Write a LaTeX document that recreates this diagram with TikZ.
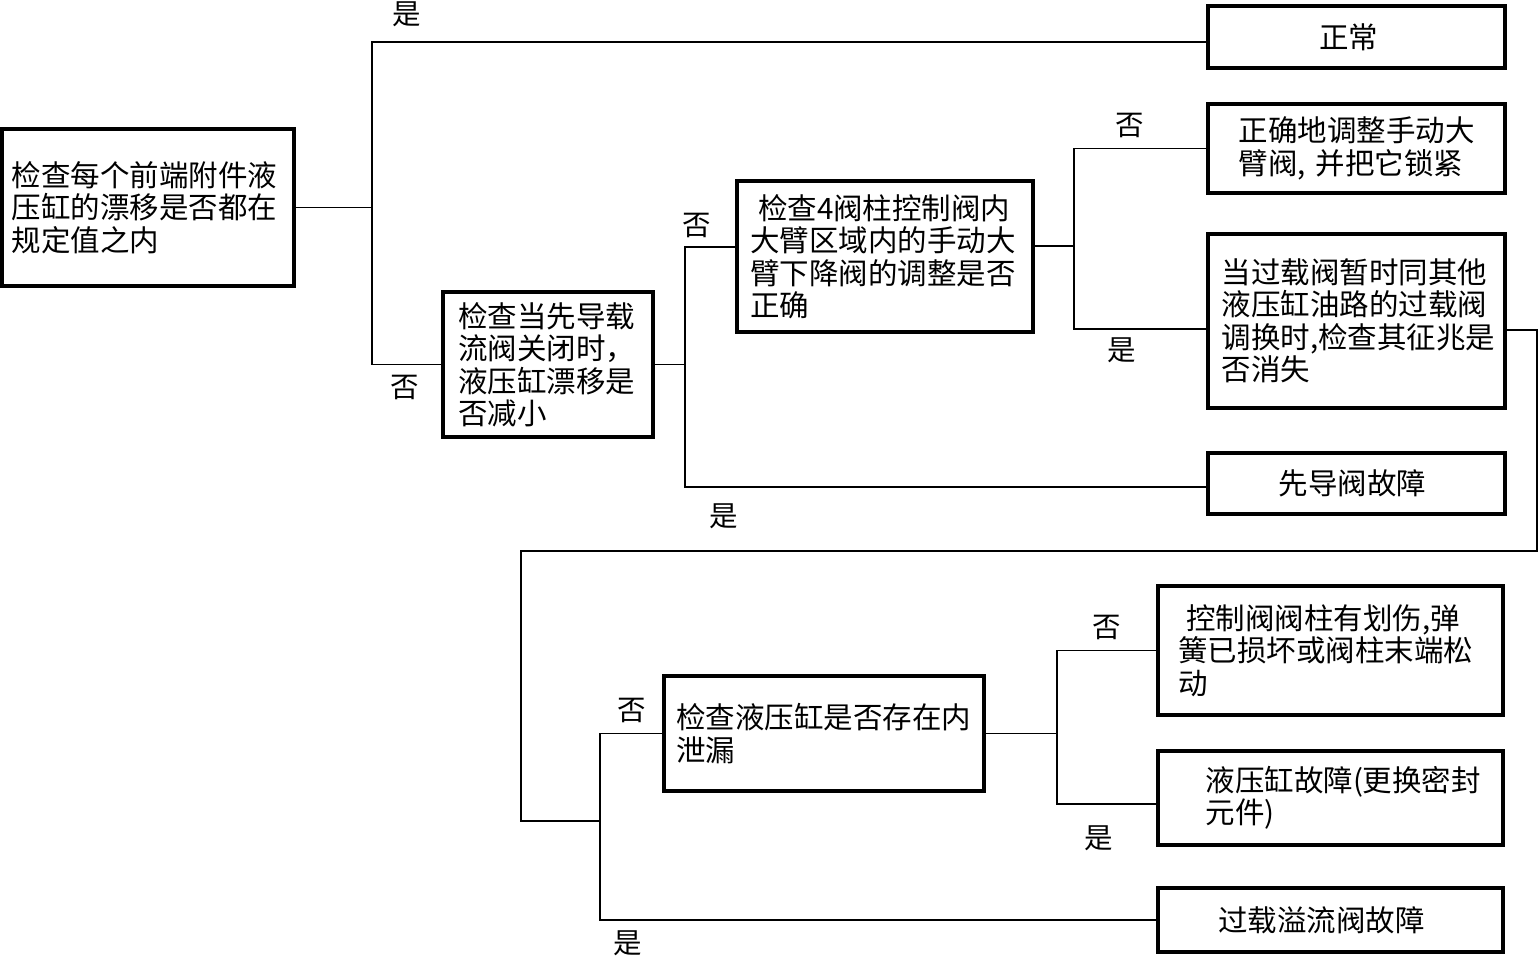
\documentclass[tikz,border=0pt]{standalone}
\usepackage{fontspec}
\newfontfamily\cjk{Noto Sans CJK SC}
\begin{document}
\begin{tikzpicture}[x=1pt,y=-1pt,
  box/.style={draw, line width=3.4pt, inner sep=0pt, align=left, font=\cjk\fontsize{29.5}{32.5}\selectfont},
  lbl/.style={font=\cjk\fontsize{28.5}{32}\selectfont, inner sep=0pt},
  conn/.style={line width=1.3pt}]
\useasboundingbox (0,0) rectangle (1540,959);
% boxes
\node[box, minimum width=292pt, minimum height=157pt, text width=272pt] (root) at (148,207.5) {检查每个前端附件液\\压缸的漂移是否都在\\规定值之内};
\node[box, minimum width=297pt, minimum height=62pt, align=center] (ok) at (1356.5,37) {\hspace*{-16pt}正常};
\node[box, minimum width=297pt, minimum height=89pt, text width=236pt] (fix) at (1356.5,148.5) {正确地调整手动大\\臂阀, 并把它锁紧};
\node[box, minimum width=297pt, minimum height=174pt, text width=270pt] (q3) at (1356.5,321) {当过载阀暂时同其他\\液压缸油路的过载阀\\调换时,检查其征兆是\\否消失};
\node[box, minimum width=297pt, minimum height=61pt, align=center] (pilot) at (1356.5,483.5) {\hspace*{-8pt}先导阀故障};
\node[box, minimum width=296pt, minimum height=151pt, text width=270pt] (q2) at (885,256.5) {\hspace*{8pt}检查4阀柱控制阀内\\大臂区域内的手动大\\臂下降阀的调整是否\\正确};
\node[box, minimum width=210pt, minimum height=145pt, text width=180pt] (q1) at (548,364.5) {检查当先导载\\流阀关闭时，\\液压缸漂移是\\否减小};
\node[box, minimum width=320pt, minimum height=115pt, text width=296pt] (q4) at (824,733.5) {检查液压缸是否存在内\\泄漏};
\node[box, minimum width=345pt, minimum height=129pt, text width=305pt] (spr) at (1330.5,650.5) {\hspace*{8pt}控制阀阀柱有划伤,弹\\簧已损坏或阀柱末端松\\动};
\node[box, minimum width=345pt, minimum height=94pt, text width=250pt] (cylf) at (1330.5,798) {液压缸故障(更换密封\\元件)};
\node[box, minimum width=345pt, minimum height=64pt, align=center] (over) at (1330.5,920) {\hspace*{-18pt}过载溢流阀故障};
% junctions
\coordinate (jA) at (372,207.5);
\coordinate (jB) at (685,364.5);
\coordinate (jC) at (1074,246);
\coordinate (r1) at (1537,551);
\coordinate (r2) at (521,551);
\coordinate (jE) at (600,821);
\coordinate (jF) at (1057,733.5);
% connectors
\draw[conn] (root.east) -- (jA);
\draw[conn] ([yshift=-5pt]ok.west) -| (jA) |- (q1.west);
\draw[conn] (q1.east) -- (jB);
\draw[conn] ([yshift=9.5pt]q2.west) -| (jB) |- ([yshift=-3.5pt]pilot.west);
\draw[conn] ([yshift=10.5pt]q2.east) -- (jC);
\draw[conn] (fix.west) -| (jC) |- ([yshift=-8pt]q3.west);
\draw[conn] ([yshift=-9pt]q3.east) -| (r1) -- (r2) |- (jE);
\draw[conn] (q4.west) -| (jE) |- (over.west);
\draw[conn] (q4.east) -- (jF);
\draw[conn] (spr.west) -| (jF) |- ([yshift=-6pt]cylf.west);
% labels
\node[lbl] (l1) at (407,14) {是};
\node[lbl] (l2) at (405,387) {否};
\node[lbl] (l3) at (697,225) {否};
\node[lbl] (l4) at (724,516) {是};
\node[lbl] (l5) at (1130,125) {否};
\node[lbl] (l6) at (1122,350) {是};
\node[lbl] (l7) at (632,710) {否};
\node[lbl] (l8) at (628,943) {是};
\node[lbl] (l9) at (1107,627) {否};
\node[lbl] (l10) at (1099,838) {是};
\end{tikzpicture}
\end{document}
